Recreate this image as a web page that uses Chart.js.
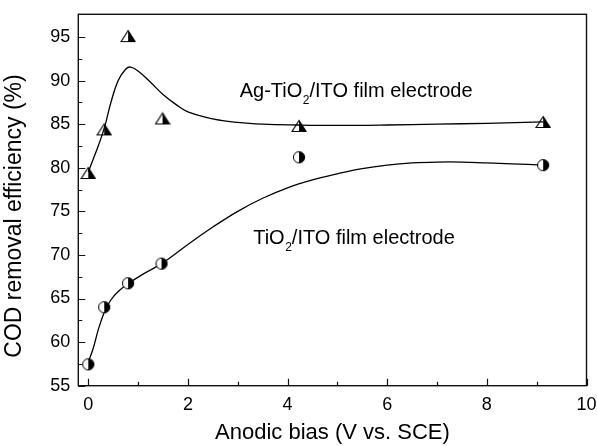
<!DOCTYPE html>
<html><head><meta charset="utf-8">
<script src="https://cdn.jsdelivr.net/npm/chart.js@4/dist/chart.umd.min.js"></script>
<style>html,body{margin:0;padding:0;background:#fff;}</style>
</head><body>
<canvas id="c" width="597" height="446"></canvas>
<script>
// Measured points
const biasAg = [0, 0.32, 0.80, 1.49, 4.23, 9.13];
const codAg  = [79.4, 84.4, 95.1, 85.65, 84.8, 85.25];
const biasTi = [0, 0.32, 0.80, 1.47, 4.23, 9.13];
const codTi  = [57.45, 64.0, 66.75, 69.0, 81.2, 80.3];
// Fitted curves
const fitAgX = [0, 0.1, 0.2, 0.33, 0.45, 0.6, 0.75, 0.85, 1.0, 1.25, 1.5, 1.75, 2.0, 2.5, 3.0, 3.5, 4.2, 5.0, 6.0, 7.0, 8.0, 9.13];
const fitAgY = [79.5, 81.0, 82.5, 84.7, 87.4, 90.0, 91.3, 91.55, 91.1, 89.8, 88.4, 87.3, 86.4, 85.6, 85.2, 85.0, 84.9, 84.85, 84.9, 85.0, 85.1, 85.25];
const fitTiX = [0, 0.1, 0.2, 0.32, 0.45, 0.6, 0.8, 1.1, 1.47, 2.0, 2.5, 3.0, 3.5, 4.0, 4.5, 5.0, 5.5, 6.0, 6.5, 7.0, 7.5, 8.0, 8.5, 9.13];
const fitTiY = [57.7, 59.3, 61.4, 63.4, 64.8, 65.8, 66.7, 67.8, 69.0, 71.2, 73.2, 75.0, 76.5, 77.7, 78.6, 79.3, 79.9, 80.3, 80.55, 80.65, 80.65, 80.55, 80.45, 80.3];
// Axes
const xTicks = [0, 2, 4, 6, 8, 10];
const yTicks = [55, 60, 65, 70, 75, 80, 85, 90, 95];
const xMinor = [1, 3, 5, 7, 9];
const yMinor = [57.5, 62.5, 67.5, 72.5, 77.5, 82.5, 87.5, 92.5];
const xTitle = 'Anodic bias (V vs. SCE)';
const yTitle = 'COD removal efficiency (%)';
const labelAg = ['Ag-TiO', '2', '/ITO film electrode'];
const labelAgPos = [3.04, 88.1];
const labelTi = ['TiO', '2', '/ITO film electrode'];
const labelTiPos = [3.31, 71.2];

const FONT = '"Liberation Sans", Arial, Helvetica, sans-serif';

function triMarker(){
  const c = document.createElement('canvas'); c.width = 16; c.height = 14;
  const g = c.getContext('2d');
  g.beginPath(); g.moveTo(8, 1.5); g.lineTo(15, 12.5); g.lineTo(8, 12.5); g.closePath();
  g.fillStyle = '#000'; g.fill();
  g.beginPath(); g.moveTo(8, 1.5); g.lineTo(15, 12.5); g.lineTo(1, 12.5); g.closePath();
  g.lineWidth = 1.2; g.strokeStyle = '#000'; g.lineJoin = 'miter'; g.stroke();
  return c;
}
function circMarker(){
  const c = document.createElement('canvas'); c.width = 14; c.height = 14;
  const g = c.getContext('2d');
  g.fillStyle = '#fff'; g.beginPath(); g.arc(7, 7, 5.6, 0, Math.PI * 2); g.fill();
  g.fillStyle = '#000'; g.beginPath(); g.moveTo(7, 7); g.arc(7, 7, 5.6, -Math.PI / 2, Math.PI / 2); g.closePath(); g.fill();
  g.lineWidth = 1; g.strokeStyle = '#000'; g.beginPath(); g.arc(7, 7, 5.6, 0, Math.PI * 2); g.stroke();
  return c;
}
const zip = (xs, ys) => xs.map((x, i) => ({x: x, y: ys[i]}));

const deco = {
  id: 'deco',
  afterDraw(chart){
    const {ctx, chartArea: a, scales: {x, y}} = chart;
    ctx.save();
    ctx.strokeStyle = '#111'; ctx.lineWidth = 1.2;
    ctx.beginPath();
    yTicks.forEach(v => { const p = Math.round(y.getPixelForValue(v)) + 0.5; ctx.moveTo(a.left, p); ctx.lineTo(a.left + 7, p); });
    yMinor.forEach(v => { const p = Math.round(y.getPixelForValue(v)) + 0.5; ctx.moveTo(a.left, p); ctx.lineTo(a.left + 4, p); });
    xTicks.forEach(v => { const p = Math.round(x.getPixelForValue(v)) + 0.5; ctx.moveTo(p, a.bottom); ctx.lineTo(p, a.bottom - 7); });
    xMinor.forEach(v => { const p = Math.round(x.getPixelForValue(v)) + 0.5; ctx.moveTo(p, a.bottom); ctx.lineTo(p, a.bottom - 4); });
    ctx.stroke();
    ctx.lineWidth = 1.4;
    ctx.strokeRect(a.left, a.top, a.right - a.left, a.bottom - a.top);
    ctx.fillStyle = '#000'; ctx.textBaseline = 'alphabetic'; ctx.textAlign = 'left';
    function sub(parts, pos){
      let px = x.getPixelForValue(pos[0]);
      const py = y.getPixelForValue(pos[1]);
      ctx.font = '20px ' + FONT; ctx.fillText(parts[0], px, py); px += ctx.measureText(parts[0]).width;
      ctx.font = '12px ' + FONT; ctx.fillText(parts[1], px + 0.5, py + 6.5); px += ctx.measureText(parts[1]).width + 0.5;
      ctx.font = '20px ' + FONT; ctx.fillText(parts[2], px, py);
    }
    sub(labelAg, labelAgPos);
    sub(labelTi, labelTiPos);
    ctx.textAlign = 'center';
    ctx.font = '22px ' + FONT;
    ctx.fillText(xTitle, (a.left + a.right) / 2, 439);
    ctx.save();
    ctx.translate(20.5, 216);
    ctx.rotate(-Math.PI / 2);
    ctx.font = '23px ' + FONT;
    ctx.fillText(yTitle, 0, 0);
    ctx.restore();
    ctx.restore();
  }
};

function noPad(s){ s.paddingTop = 0; s.paddingBottom = 0; s.paddingLeft = 0; s.paddingRight = 0; }

new Chart(document.getElementById('c'), {
  type: 'scatter',
  data: {
    datasets: [
      {label: 'Ag-TiO2/ITO', data: zip(biasAg, codAg), pointStyle: triMarker(), pointRadius: 7, showLine: false},
      {label: 'TiO2/ITO', data: zip(biasTi, codTi), pointStyle: circMarker(), pointRadius: 7, showLine: false},
      {label: 'fitAg', data: zip(fitAgX, fitAgY), showLine: true, pointRadius: 0, borderColor: '#000', borderWidth: 1.3, tension: 0.4, fill: false},
      {label: 'fitTi', data: zip(fitTiX, fitTiY), showLine: true, pointRadius: 0, borderColor: '#000', borderWidth: 1.3, tension: 0.4, fill: false}
    ]
  },
  options: {
    responsive: false, animation: false, devicePixelRatio: 1,
    layout: {padding: {left: 0, right: 10.5, top: 14.3, bottom: 0}},
    plugins: {legend: {display: false}, tooltip: {enabled: false}},
    scales: {
      x: {
        type: 'linear', position: 'bottom', min: -0.2, max: 10,
        grid: {display: false, drawTicks: false}, border: {display: false},
        ticks: {font: {size: 18, family: FONT}, color: '#000', padding: 9},
        afterBuildTicks: s => { s.ticks = xTicks.map(v => ({value: v})); },
        afterFit: s => { s.height = 60.3; noPad(s); }
      },
      y: {
        type: 'linear', min: 55, max: 97.6,
        grid: {display: false, drawTicks: false}, border: {display: false},
        ticks: {font: {size: 18, family: FONT}, color: '#000', padding: 8},
        afterBuildTicks: s => { s.ticks = yTicks.map(v => ({value: v})); },
        afterFit: s => { s.width = 78.3; noPad(s); }
      }
    }
  },
  plugins: [deco]
});
</script>
</body></html>
